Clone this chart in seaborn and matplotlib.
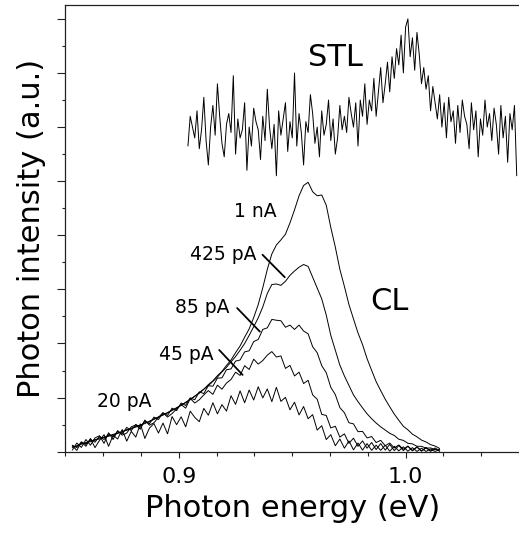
import numpy as np
import pandas as pd
import matplotlib
matplotlib.use('Agg')
import matplotlib.pyplot as plt
import seaborn as sns
from matplotlib.ticker import MultipleLocator, AutoMinorLocator, FormatStrFormatter

# energy sampling of the spectra (eV)
cl_start, cl_end, cl_count = 0.853, 1.015, 82
stl_start, stl_end, stl_count = 0.904, 1.049, 146

# CL spectra for different tunnel currents (a.u.)
cl_1nA = [0.18, 0.20, 0.31, 0.30, 0.41, 0.42, 0.51, 0.52, 0.60, 0.62,
          0.70, 0.72, 0.82, 0.84, 0.94, 0.97, 1.07, 1.10, 1.22, 1.27,
          1.38, 1.43, 1.55, 1.60, 1.74, 1.81, 1.95, 2.04, 2.19, 2.31,
          2.48, 2.62, 2.81, 2.97, 3.19, 3.39, 3.66, 3.91, 4.23, 4.54,
          4.96, 5.44, 6.06, 6.74, 7.31, 7.64, 7.83, 8.04, 8.46, 8.94,
          9.46, 9.84, 9.96, 9.61, 9.46, 9.49, 9.11, 8.29, 7.56, 6.74,
          6.11, 5.44, 4.91, 4.39, 3.96, 3.44, 3.01, 2.59, 2.26, 1.94,
          1.66, 1.39, 1.16, 0.94, 0.81, 0.65, 0.55, 0.43, 0.36, 0.26,
          0.21, 0.12]
cl_425pA = [0.16, 0.22, 0.28, 0.34, 0.37, 0.45, 0.47, 0.54, 0.57, 0.64,
            0.67, 0.75, 0.79, 0.87, 0.91, 0.99, 1.04, 1.13, 1.19, 1.29,
            1.35, 1.45, 1.52, 1.63, 1.71, 1.83, 1.92, 2.06, 2.16, 2.31,
            2.44, 2.60, 2.76, 2.95, 3.12, 3.32, 3.52, 3.75, 4.00, 4.30,
            4.62, 4.95, 5.35, 5.85, 6.18, 6.20, 6.15, 6.30, 6.52, 6.68,
            6.82, 6.92, 6.85, 6.45, 6.05, 5.65, 5.05, 4.30, 3.75, 3.20,
            2.80, 2.45, 2.10, 1.85, 1.62, 1.40, 1.22, 1.06, 0.92, 0.80,
            0.68, 0.60, 0.46, 0.42, 0.31, 0.29, 0.20, 0.20, 0.13, 0.14,
            0.08, 0.09]
cl_85pA = [0.24, 0.15, 0.36, 0.27, 0.46, 0.35, 0.57, 0.45, 0.66, 0.55,
           0.76, 0.66, 0.90, 0.78, 1.01, 0.90, 1.14, 1.03, 1.28, 1.19,
           1.44, 1.34, 1.61, 1.52, 1.80, 1.71, 1.99, 1.92, 2.21, 2.15,
           2.44, 2.42, 2.72, 2.73, 3.03, 3.06, 3.35, 3.39, 3.69, 3.73,
           4.07, 4.15, 4.52, 4.58, 4.89, 4.86, 4.84, 4.60, 4.68, 4.52,
           4.68, 4.46, 4.36, 3.88, 3.66, 3.18, 2.92, 2.38, 2.11, 1.63,
           1.44, 1.07, 1.03, 0.74, 0.75, 0.51, 0.56, 0.34, 0.42, 0.22,
           0.32, 0.14, 0.25, 0.09, 0.21, 0.05, 0.18, 0.03, 0.16, 0.02,
           0.14, 0.02]
cl_45pA = [0.06, 0.32, 0.16, 0.45, 0.24, 0.51, 0.59, 0.31, 0.70, 0.45,
           0.78, 0.61, 0.69, 0.92, 0.99, 0.83, 1.17, 0.98, 1.07, 1.27,
           1.44, 1.28, 1.41, 1.58, 1.74, 1.61, 1.97, 1.80, 1.92, 2.10,
           2.26, 2.12, 2.46, 2.31, 2.54, 2.67, 2.94, 2.82, 3.18, 3.04,
           3.42, 3.24, 3.37, 3.57, 3.70, 3.50, 3.54, 3.08, 3.19, 2.80,
           2.94, 2.52, 2.64, 2.10, 1.94, 1.38, 1.34, 0.88, 0.94, 0.54,
           0.66, 0.31, 0.50, 0.20, 0.40, 0.13, 0.34, 0.08, 0.30, 0.06,
           0.27, 0.04, 0.23, 0.04, 0.20, 0.03, 0.17, 0.02, 0.14, 0.02,
           0.10, 0.02]
cl_20pA = [0.22, 0.05, 0.36, 0.20, 0.49, 0.15, 0.42, 0.63, 0.20, 0.61,
           0.47, 0.82, 0.39, 0.75, 0.54, 1.03, 0.49, 0.87, 1.04, 0.69,
           1.06, 0.66, 1.30, 1.00, 1.29, 0.92, 1.50, 1.27, 1.11, 1.60,
           1.35, 1.81, 1.40, 1.74, 1.50, 2.07, 1.75, 2.25, 1.81, 2.28,
           1.91, 2.40, 1.99, 2.32, 1.85, 2.38, 1.86, 2.01, 1.55, 1.83,
           1.36, 1.67, 1.22, 1.37, 0.80, 0.96, 0.45, 0.63, 0.22, 0.47,
           0.13, 0.40, 0.07, 0.32, 0.06, 0.30, 0.05, 0.24, 0.05, 0.24,
           0.02, 0.20, 0.03, 0.18, 0.02, 0.15, 0.01, 0.13, 0.01, 0.10,
           0.01, 0.08]

# STL spectrum (a.u., offset above the CL curves)
stl = [11.3, 12.4, 12.0, 11.6, 12.6, 11.2, 11.9, 13.1, 11.5, 10.6,
       12.0, 12.8, 11.7, 13.6, 12.4, 11.4, 10.9, 12.1, 12.5, 11.8,
       13.9, 11.0, 12.3, 11.6, 11.9, 12.9, 10.4, 12.0, 11.3, 12.7,
       12.2, 11.9, 10.8, 12.4, 11.5, 13.4, 12.0, 11.2, 12.1, 10.2,
       12.6, 11.7, 12.3, 12.9, 11.1, 12.2, 11.6, 14.0, 11.3, 12.5,
       11.8, 10.6, 12.2, 11.8, 13.2, 12.5, 11.4, 12.0, 10.9, 12.6,
       11.7, 12.1, 13.0, 11.5, 12.3, 11.0, 11.6, 12.8, 11.9, 12.4,
       11.8, 13.1, 12.5, 12.0, 12.9, 11.3, 13.0, 12.4, 13.6, 12.1,
       13.0, 12.6, 13.8, 12.4, 13.3, 14.2, 12.9, 13.6, 14.4, 13.3,
       14.6, 13.8, 14.9, 14.3, 15.4, 14.0, 15.7, 16.0, 14.6, 15.3,
       14.1, 15.5, 14.7, 13.6, 14.2, 13.4, 13.9, 12.6, 13.5, 12.9,
       12.3, 13.2, 12.0, 12.9, 11.6, 13.1, 12.2, 12.6, 11.4, 12.8,
       11.8, 13.0, 12.4, 12.1, 11.2, 12.9, 11.9, 12.6, 10.9, 12.3,
       11.7, 13.0, 12.0, 12.5, 11.5, 12.7, 12.1, 11.0, 12.8, 11.6,
       12.4, 10.7, 12.5, 11.9, 12.8, 10.2]

cl_labels = ['1 nA', '425 pA', '85 pA', '45 pA', '20 pA']
cl_series = [cl_1nA, cl_425pA, cl_85pA, cl_45pA, cl_20pA]

cl_energy = np.linspace(cl_start, cl_end, cl_count)
stl_energy = np.linspace(stl_start, stl_end, stl_count)

df = pd.concat(
    [pd.DataFrame({'energy': cl_energy, 'intensity': vals, 'curve': lab})
     for lab, vals in zip(cl_labels, cl_series)]
    + [pd.DataFrame({'energy': stl_energy, 'intensity': stl, 'curve': 'STL'})],
    ignore_index=True)

sns.set_style('ticks')
plt.rcParams['font.family'] = ['DejaVu Sans']
plt.rcParams['text.color'] = 'black'
plt.rcParams['axes.labelcolor'] = 'black'
plt.rcParams['xtick.color'] = 'black'
plt.rcParams['ytick.color'] = 'black'

fig, ax = plt.subplots(figsize=(5.19, 5.34), dpi=100)
fig.subplots_adjust(left=0.1262, right=1.0, bottom=0.1541, top=0.990)

for name, grp in df.groupby('curve', sort=False):
    sns.lineplot(data=grp, x='energy', y='intensity', color='black',
                 linewidth=0.7, sort=False, estimator=None, ax=ax)

# curve labels (text centre x, baseline y)
label_pos = {'1 nA': (0.9335, 8.69), '425 pA': (0.9194, 7.09),
             '85 pA': (0.9105, 5.13), '45 pA': (0.9031, 3.39),
             '20 pA': (0.8759, 1.66)}
for lab, (xx, yy) in label_pos.items():
    ax.text(xx, yy, lab, ha='center', va='baseline', fontsize=13.5)

leaders = {'425 pA': ((0.9369, 7.28), (0.9467, 6.45)),
           '85 pA': ((0.9257, 5.31), (0.9357, 4.44)),
           '45 pA': ((0.9178, 3.76), (0.9281, 2.84))}
for lab, (p0, p1) in leaders.items():
    ax.annotate('', xy=p1, xytext=p0,
                arrowprops=dict(arrowstyle='-', lw=1.3, color='black',
                                shrinkA=0, shrinkB=0))

ax.text(0.9691, 14.24, 'STL', ha='center', va='baseline', fontsize=22)
ax.text(0.9930, 5.24, 'CL', ha='center', va='baseline', fontsize=22)

ax.set_xlim(0.85, 1.05)
ax.set_ylim(0, 16.5)
ax.xaxis.set_major_locator(MultipleLocator(0.1))
ax.xaxis.set_minor_locator(AutoMinorLocator(6))
ax.xaxis.set_major_formatter(FormatStrFormatter('%.1f'))
ax.yaxis.set_major_locator(MultipleLocator(2))
ax.yaxis.set_minor_locator(MultipleLocator(1))

ax.tick_params(axis='x', which='major', length=4, width=0.8, pad=7,
               labelsize=16, color='#222222')
ax.tick_params(axis='x', which='minor', length=2.6, width=0.8, color='#222222')
ax.tick_params(axis='y', which='major', length=5.5, width=0.8,
               labelleft=False, color='#222222')
ax.tick_params(axis='y', which='minor', length=2.4, width=0.8, color='#222222')

for side in ['left', 'top', 'bottom']:
    ax.spines[side].set_visible(True)
    ax.spines[side].set_linewidth(0.9)
    ax.spines[side].set_color('#222222')
ax.spines['right'].set_visible(False)

ax.set_xlabel('Photon energy (eV)', fontsize=22, labelpad=5)
ax.set_ylabel('Photon intensity (a.u.)', fontsize=22, labelpad=8)

fig.savefig('out.png', dpi=100)
